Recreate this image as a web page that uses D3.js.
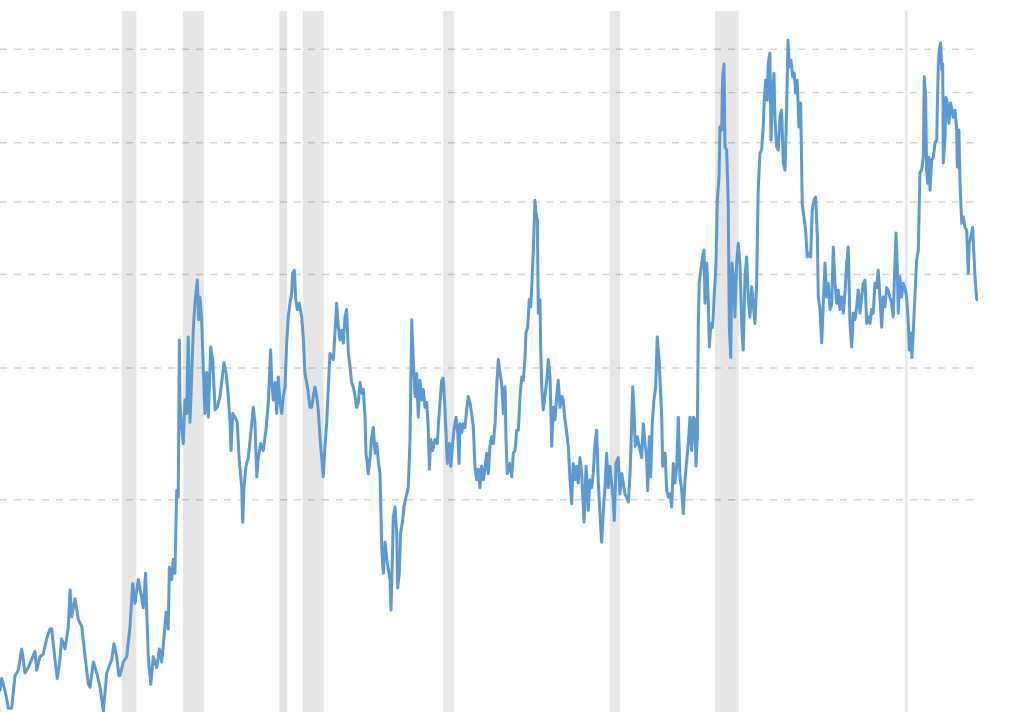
<!DOCTYPE html>
<html>
<head>
<meta charset="utf-8">
<script src="https://cdn.jsdelivr.net/npm/d3@7"></script>
<style>
  html, body { margin: 0; padding: 0; background: #ffffff; }
  svg { display: block; }
</style>
</head>
<body>
<script>
// ---- Data (price per bushel, decimal year) ----
const corn1960s = [[1962.10,1.11],[1962.21,1.15],[1962.36,1.12],[1962.53,1.08],[1962.63,1.05],[1962.85,1.05],[1963.06,1.16],[1963.27,1.18],[1963.49,1.26],[1963.59,1.22],[1963.70,1.17],[1963.91,1.19],[1964.13,1.22],[1964.34,1.25],[1964.45,1.18],[1964.66,1.23],[1964.87,1.24],[1965.09,1.30],[1965.30,1.34],[1965.41,1.34],[1965.62,1.22],[1965.77,1.15],[1965.94,1.22],[1966.05,1.30],[1966.27,1.26],[1966.48,1.35],[1966.59,1.51],[1966.69,1.39],[1966.91,1.47],[1967.12,1.38],[1967.34,1.35],[1967.55,1.23],[1967.76,1.13],[1967.87,1.12],[1968.08,1.21],[1968.30,1.17],[1968.51,1.12],[1968.72,1.04],[1968.94,1.17],[1969.26,1.22],[1969.40,1.28],[1969.58,1.23],[1969.72,1.16],[1969.79,1.16]];
const corn1970s = [[1970.00,1.21],[1970.22,1.23],[1970.43,1.35],[1970.60,1.54],[1970.75,1.45],[1970.96,1.56],[1971.11,1.50],[1971.28,1.43],[1971.43,1.59],[1971.50,1.42],[1971.60,1.23],[1971.76,1.13],[1971.92,1.23],[1972.14,1.19],[1972.31,1.26],[1972.46,1.21],[1972.56,1.27],[1972.74,1.41],[1972.88,1.34],[1972.95,1.62],[1973.10,1.56],[1973.20,1.66],[1973.31,1.59],[1973.42,2.05],[1973.52,2.01],[1973.59,3.26],[1973.63,2.69],[1973.74,2.49],[1973.84,2.37],[1973.95,2.71],[1974.06,2.60],[1974.16,3.29],[1974.27,2.53],[1974.38,2.91],[1974.49,3.39],[1974.59,3.65],[1974.74,3.92],[1974.83,3.47],[1974.91,3.72],[1975.02,3.47],[1975.13,2.97],[1975.23,2.60],[1975.34,2.95],[1975.45,2.57],[1975.60,3.19],[1975.73,3.07],[1975.88,2.63],[1976.02,2.65],[1976.20,2.74],[1976.45,3.04],[1976.58,2.95],[1976.73,2.74],[1976.84,2.53],[1976.90,2.32],[1977.01,2.60],[1977.16,2.57],[1977.30,2.53],[1977.43,2.25],[1977.59,2.07],[1977.65,1.86],[1977.73,2.07],[1977.86,2.21],[1978.01,2.27],[1978.23,2.52],[1978.33,2.65],[1978.44,2.52],[1978.55,2.14],[1978.65,2.27],[1978.80,2.37],[1978.97,2.32],[1979.14,2.47],[1979.29,2.69],[1979.44,3.16],[1979.51,2.86],[1979.61,2.71],[1979.72,2.86],[1979.83,2.60],[1979.93,2.91]];
const corn1980s = [[1980.04,2.69],[1980.15,2.60],[1980.25,2.74],[1980.36,2.82],[1980.47,3.23],[1980.57,3.50],[1980.68,3.65],[1980.79,3.77],[1980.85,4.00],[1980.96,4.04],[1981.05,3.69],[1981.15,3.58],[1981.28,3.65],[1981.43,3.50],[1981.53,3.29],[1981.64,2.94],[1981.75,2.86],[1981.85,2.77],[1981.96,2.65],[1982.07,2.65],[1982.17,2.74],[1982.28,2.82],[1982.39,2.74],[1982.49,2.63],[1982.60,2.42],[1982.71,2.27],[1982.81,2.14],[1982.92,2.35],[1983.03,2.52],[1983.13,2.80],[1983.24,3.13],[1983.35,3.09],[1983.46,3.07],[1983.56,3.33],[1983.67,3.65],[1983.78,3.39],[1983.88,3.26],[1983.99,3.36],[1984.10,3.23],[1984.20,3.50],[1984.31,3.58],[1984.42,3.13],[1984.53,3.00],[1984.63,2.86],[1984.74,2.82],[1984.85,2.74],[1984.95,2.65],[1985.06,2.69],[1985.17,2.86],[1985.27,2.77],[1985.38,2.80],[1985.49,2.57],[1985.55,2.30],[1985.63,2.23],[1985.70,2.16],[1985.81,2.27],[1985.92,2.42],[1986.02,2.49],[1986.13,2.30],[1986.24,2.37],[1986.34,2.25],[1986.45,2.16],[1986.56,1.72],[1986.66,1.59],[1986.77,1.75],[1986.88,1.66],[1986.98,1.61],[1987.09,1.56],[1987.15,1.42],[1987.24,1.66],[1987.30,1.89],[1987.41,1.95],[1987.52,1.80],[1987.58,1.52],[1987.68,1.59],[1987.77,1.80],[1987.90,1.87],[1987.98,1.95],[1988.11,2.01],[1988.26,2.07],[1988.37,2.40],[1988.48,3.47],[1988.58,3.07],[1988.69,2.74],[1988.80,2.94],[1988.90,2.57],[1989.01,2.88],[1989.12,2.71],[1989.22,2.80],[1989.33,2.65],[1989.44,2.69],[1989.54,2.49],[1989.61,2.19],[1989.70,2.40],[1989.82,2.32],[1989.97,2.40]];
const corn1990s = [[1990.12,2.37],[1990.18,2.49],[1990.29,2.69],[1990.40,2.88],[1990.50,2.90],[1990.61,2.63],[1990.68,2.45],[1990.76,2.23],[1990.89,2.37],[1990.98,2.21],[1991.10,2.37],[1991.21,2.49],[1991.32,2.57],[1991.43,2.45],[1991.51,2.23],[1991.57,2.52],[1991.68,2.45],[1991.78,2.52],[1991.89,2.49],[1992.00,2.63],[1992.10,2.74],[1992.21,2.69],[1992.32,2.60],[1992.43,2.49],[1992.53,2.21],[1992.64,2.12],[1992.75,2.19],[1992.85,2.07],[1992.96,2.21],[1993.07,2.12],[1993.17,2.19],[1993.28,2.30],[1993.39,2.16],[1993.49,2.35],[1993.60,2.42],[1993.71,2.37],[1993.82,2.52],[1993.92,2.82],[1994.03,3.07],[1994.14,2.94],[1994.24,2.86],[1994.35,2.60],[1994.46,2.82],[1994.52,2.40],[1994.60,2.16],[1994.78,2.23],[1994.89,2.14],[1994.99,2.30],[1995.10,2.32],[1995.21,2.47],[1995.31,2.47],[1995.42,2.74],[1995.53,2.91],[1995.63,2.88],[1995.74,3.09],[1995.80,3.33],[1995.91,3.39],[1996.01,3.69],[1996.10,3.61],[1996.17,3.84],[1996.27,4.30],[1996.38,5.01],[1996.44,4.82],[1996.53,4.72],[1996.59,3.54],[1996.70,3.69],[1996.74,3.19],[1996.81,2.82],[1996.91,2.63],[1997.02,2.74],[1997.13,2.88],[1997.23,3.07],[1997.34,2.91],[1997.45,2.35],[1997.55,2.65],[1997.66,2.55],[1997.77,2.74],[1997.87,2.88],[1997.98,2.65],[1998.09,2.74],[1998.19,2.71],[1998.30,2.55],[1998.41,2.45],[1998.51,2.35],[1998.62,2.12],[1998.73,1.97],[1998.83,2.23],[1998.94,2.12],[1999.05,2.21],[1999.15,2.10],[1999.26,2.27],[1999.37,2.16],[1999.52,1.86],[1999.65,2.21],[1999.79,1.93],[1999.90,2.12]];
const corn2000s = [[2000.01,2.07],[2000.11,2.16],[2000.22,2.37],[2000.33,2.47],[2000.43,2.12],[2000.54,1.91],[2000.65,1.75],[2000.75,1.91],[2000.86,2.07],[2000.97,2.30],[2001.07,2.07],[2001.18,2.21],[2001.29,2.10],[2001.39,1.99],[2001.46,1.87],[2001.57,2.23],[2001.71,2.27],[2001.82,2.03],[2001.93,2.16],[2002.04,2.10],[2002.14,2.03],[2002.25,2.01],[2002.36,1.98],[2002.46,2.14],[2002.53,2.35],[2002.64,2.82],[2002.72,2.63],[2002.80,2.35],[2002.93,2.42],[2003.06,2.35],[2003.21,2.27],[2003.32,2.52],[2003.43,2.37],[2003.53,2.27],[2003.60,2.05],[2003.70,2.42],[2003.79,2.14],[2003.89,2.52],[2004.00,2.71],[2004.11,2.82],[2004.21,3.29],[2004.32,3.09],[2004.39,2.88],[2004.50,2.57],[2004.56,2.21],[2004.71,2.30],[2004.82,2.05],[2004.92,2.01],[2005.03,2.03],[2005.14,1.95],[2005.24,2.23],[2005.35,2.10],[2005.46,2.21],[2005.56,2.57],[2005.67,2.14],[2005.78,2.05],[2005.88,1.91],[2005.99,2.12],[2006.10,2.25],[2006.20,2.37],[2006.31,2.57],[2006.42,2.32],[2006.52,2.57],[2006.63,2.55],[2006.69,2.21],[2006.78,2.42],[2006.84,3.39],[2006.90,3.89],[2007.01,4.04],[2007.12,4.21],[2007.21,4.30],[2007.27,3.65],[2007.38,4.13],[2007.48,3.69],[2007.55,3.19],[2007.65,3.43],[2007.76,3.39],[2007.87,3.77],[2007.97,4.08],[2008.06,5.01],[2008.17,5.38],[2008.23,6.28],[2008.34,6.22],[2008.40,7.33],[2008.49,7.62],[2008.55,5.90],[2008.66,5.85],[2008.76,4.97],[2008.83,3.39],[2008.92,3.09],[2009.00,4.13],[2009.13,3.88],[2009.19,3.50],[2009.30,4.13],[2009.40,4.39],[2009.51,4.13],[2009.62,3.43],[2009.72,3.16],[2009.83,3.96],[2009.94,4.21]];
const corn2010s = [[2010.04,3.72],[2010.15,3.50],[2010.26,3.84],[2010.36,3.65],[2010.47,3.43],[2010.58,3.88],[2010.68,5.17],[2010.79,5.79],[2010.90,5.85],[2011.00,6.28],[2011.07,6.82],[2011.16,7.25],[2011.26,6.82],[2011.32,7.62],[2011.43,7.88],[2011.50,6.03],[2011.58,6.88],[2011.69,7.41],[2011.75,6.47],[2011.86,5.90],[2011.97,5.85],[2012.07,6.47],[2012.18,6.61],[2012.29,5.62],[2012.40,5.50],[2012.50,6.61],[2012.59,8.20],[2012.67,7.55],[2012.78,7.71],[2012.89,7.33],[2012.99,7.41],[2013.08,6.97],[2013.18,7.25],[2013.29,6.28],[2013.40,6.76],[2013.50,4.97],[2013.61,4.76],[2013.72,4.57],[2013.82,4.21],[2013.93,4.26],[2014.04,4.21],[2014.14,4.86],[2014.25,5.01],[2014.36,5.06],[2014.47,4.48],[2014.53,3.72],[2014.64,3.58],[2014.75,3.23],[2014.85,3.65],[2014.96,4.13],[2015.07,3.72],[2015.17,3.88],[2015.28,3.58],[2015.39,3.65],[2015.49,4.34],[2015.60,3.88],[2015.71,3.65],[2015.81,3.80],[2015.92,3.58],[2016.03,3.72],[2016.13,3.54],[2016.24,3.77],[2016.35,4.13],[2016.45,4.34],[2016.56,3.43],[2016.67,3.19],[2016.77,3.54],[2016.88,3.47],[2016.99,3.61],[2017.09,3.80],[2017.20,3.54],[2017.31,3.72],[2017.41,3.88],[2017.52,3.92],[2017.63,3.43],[2017.73,3.50],[2017.84,3.43],[2017.95,3.58],[2018.05,3.54],[2018.16,3.88],[2018.27,3.83],[2018.37,4.04],[2018.48,3.72],[2018.59,3.39],[2018.69,3.72],[2018.80,3.61],[2018.91,3.83],[2019.01,3.80],[2019.12,3.72],[2019.23,3.65],[2019.33,3.50],[2019.44,4.13],[2019.51,4.53],[2019.59,4.08],[2019.65,3.54],[2019.76,3.96],[2019.87,3.72],[2019.97,3.88]];
const corn2020s = [[2020.08,3.83],[2020.19,3.72],[2020.30,3.43],[2020.36,3.16],[2020.45,3.33],[2020.53,3.09],[2020.62,3.36],[2020.72,3.72],[2020.83,4.17],[2020.94,4.30],[2021.04,5.45],[2021.15,5.50],[2021.26,5.72],[2021.32,7.33],[2021.41,6.88],[2021.47,5.50],[2021.54,5.28],[2021.62,5.72],[2021.69,5.17],[2021.79,5.67],[2021.90,5.72],[2022.01,5.98],[2022.12,6.03],[2022.15,6.55],[2022.22,7.62],[2022.28,7.96],[2022.37,8.13],[2022.44,7.48],[2022.50,7.62],[2022.54,5.62],[2022.65,6.09],[2022.71,6.88],[2022.79,6.76],[2022.90,6.35],[2023.01,6.76],[2023.10,6.61],[2023.18,6.47],[2023.29,6.61],[2023.40,6.22],[2023.44,5.55],[2023.54,6.22],[2023.61,5.28],[2023.72,4.67],[2023.82,4.76],[2023.93,4.61],[2024.04,4.57],[2024.14,4.00],[2024.20,4.39],[2024.31,4.48],[2024.42,4.61],[2024.51,4.21],[2024.57,3.96],[2024.68,3.69]];

// US recessions (decimal year start / end)
const recessionStart = [1969.917, 1973.833, 1980.000, 1981.500, 1990.500, 2001.167, 2007.917, 2020.083];
const recessionEnd   = [1970.833, 1975.167, 1980.500, 1982.833, 1991.167, 2001.833, 2009.417, 2020.250];

// Gridline values (log scale)
const gridValues = [2, 3, 4, 5, 6, 7, 8];

// ---- Layout ----
const W = 1024, H = 712;
const series = [].concat(corn1960s, corn1970s, corn1980s, corn1990s, corn2000s, corn2010s, corn2020s);

const x = d3.scaleLinear().domain([1962, 2025]).range([-1.56, 981.7]);
const y = d3.scaleLog().domain([1, 9]).range([724, 10]);

const svg = d3.select("body").append("svg").attr("width", W).attr("height", H);

// Recession bands
svg.append("g").selectAll("rect")
  .data(recessionStart.map((s, i) => [s, recessionEnd[i]]))
  .join("rect")
  .attr("x", d => x(d[0]))
  .attr("width", d => x(d[1]) - x(d[0]))
  .attr("y", 11)
  .attr("height", 724 - 11)
  .attr("fill", "#e6e6e6");

// Gridlines
const grid = svg.append("g")
  .attr("transform", "translate(0,0.5)")
  .call(d3.axisLeft(y).tickValues(gridValues).tickSize(-974).tickFormat(""));
grid.select(".domain").remove();
grid.selectAll("line")
  .attr("stroke", "rgba(0,0,0,0.17)")
  .attr("stroke-width", 1.3)
  .attr("stroke-dasharray", "7,7");

// Price line
const line = d3.line().x(d => x(d[0])).y(d => y(d[1]));
svg.append("path")
  .datum(series)
  .attr("d", line)
  .attr("fill", "none")
  .attr("stroke", "#5b9bd5")
  .attr("stroke-width", 3)
  .attr("stroke-linejoin", "round")
  .attr("stroke-linecap", "round");
</script>
</body>
</html>
